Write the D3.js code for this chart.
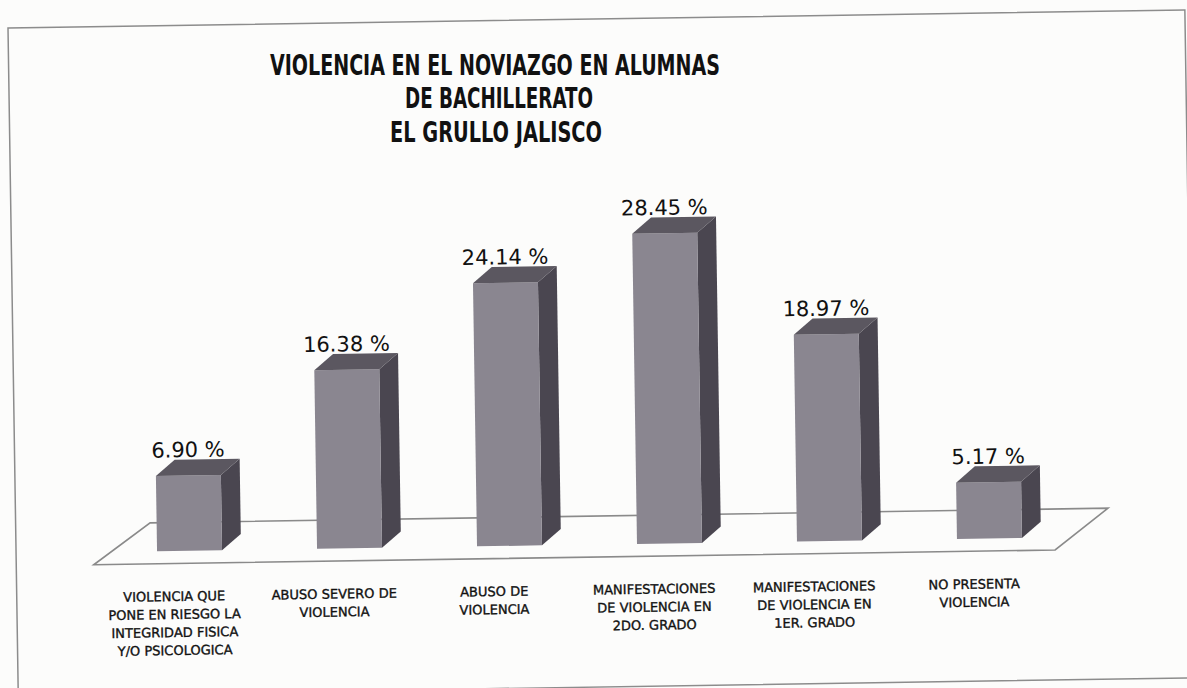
<!DOCTYPE html>
<html lang="es">
<head>
    <meta charset="UTF-8">
    <title>Violencia en el noviazgo</title>
    <style>
        body { margin: 0; background: #fcfcfb; }
        svg { display: block; }
        .title { font-family: "Liberation Sans Narrow", "DejaVu Sans Condensed", "DejaVu Sans", sans-serif; font-weight: bold; font-size: 28px; fill: #111; }
        .value { font-family: "DejaVu Sans", sans-serif; font-size: 21px; fill: #111; }
        .cat { font-family: "DejaVu Sans", sans-serif; font-size: 13px; fill: #111; stroke: #111; stroke-width: 0.35; }
    </style>
</head>
<body>
    <svg id="chart" width="1187" height="688"></svg>
    <script src="https://d3js.org/d3.v7.min.js"></script>
    <script>
        // data
        var titleLines = ["VIOLENCIA EN EL NOVIAZGO  EN ALUMNAS", "DE BACHILLERATO", "EL GRULLO JALISCO"];
        var categories = [
            ["VIOLENCIA QUE", "PONE EN RIESGO LA", "INTEGRIDAD FISICA", "Y/O PSICOLOGICA"],
            ["ABUSO SEVERO DE", "VIOLENCIA"],
            ["ABUSO DE", "VIOLENCIA"],
            ["MANIFESTACIONES", "DE VIOLENCIA EN", "2DO. GRADO"],
            ["MANIFESTACIONES", "DE VIOLENCIA EN", "1ER. GRADO"],
            ["NO PRESENTA", "VIOLENCIA"]
        ];
        var values = [6.90, 16.38, 24.14, 28.45, 18.97, 5.17];
        var valueLabels = ["6.90 %", "16.38 %", "24.14 %", "28.45 %", "18.97 %", "5.17 %"];

        var svg = d3.select("#chart");
        // the scanned page is slightly tilted
        var g = svg.append("g").attr("transform", "rotate(-0.88, 8, 28)");

        g.append("rect")
            .attr("x", 8).attr("y", 28)
            .attr("width", 1177).attr("height", 668)
            .attr("fill", "none")
            .attr("stroke", "#8c8c8c")
            .attr("stroke-width", 1.5);

        // title kept level so the lines don't crowd each other
        var titleWidths = [450, 188, 212];
        var titleX = [495, 499, 496];
        var titleY = [74.5, 107.5, 141.5];
        svg.selectAll(".title")
            .data(titleLines)
            .enter()
            .append("text")
            .attr("class", "title")
            .attr("x", (d, i) => titleX[i])
            .attr("y", (d, i) => titleY[i])
            .attr("text-anchor", "middle")
            .attr("textLength", (d, i) => titleWidths[i])
            .attr("lengthAdjust", "spacingAndGlyphs")
            .text(d => d);

        var x = d3.scaleBand()
            .domain(d3.range(values.length))
            .range([101.5, 1061.5]);
        var y = d3.scaleLinear()
            .domain([0, 30])
            .range([553.5, 226.5]);

        var barW = 65, dx = 19, dy = 16;
        var x0 = x.range()[0], x1 = x.range()[1], base = y(0);

        // floor
        g.append("path")
            .attr("d", d3.line()([
                [x0 - 16, base + 12.5],
                [x1 - 14.5, base + 12.5],
                [x1 + 39, base - 28.5],
                [x0 + 41, base - 28.5]
            ]) + "Z")
            .attr("fill", "none")
            .attr("stroke", "#8a8a8a")
            .attr("stroke-width", 1.6);

        var bars = g.selectAll(".bar")
            .data(values)
            .enter()
            .append("g")
            .attr("class", "bar");

        function left(i) { return x(i) + (x.bandwidth() - barW) / 2; }

        bars.append("path")
            .attr("d", (d, i) => {
                var l = left(i) + barW, t = y(d);
                return d3.line()([[l, t], [l + dx, t - dy], [l + dx, base - dy], [l, base]]) + "Z";
            })
            .attr("fill", "#4a4650");
        bars.append("rect")
            .attr("x", (d, i) => left(i))
            .attr("y", d => y(d))
            .attr("width", barW)
            .attr("height", d => base - y(d))
            .attr("fill", "#8a8690");
        bars.append("path")
            .attr("d", (d, i) => {
                var l = left(i), t = y(d);
                return d3.line()([[l, t], [l + dx, t - dy], [l + barW + dx, t - dy], [l + barW, t]]) + "Z";
            })
            .attr("fill", "#5b5760");

        bars.append("text")
            .attr("class", "value")
            .attr("x", (d, i) => x(i) + x.bandwidth() / 2)
            .attr("y", d => y(d) - dy - 2.5)
            .attr("text-anchor", "middle")
            .text((d, i) => valueLabels[i]);

        var cats = g.selectAll(".cat")
            .data(categories)
            .enter()
            .append("text")
            .attr("class", "cat")
            .attr("text-anchor", "middle");
        cats.selectAll("tspan")
            .data((d, i) => d.map(s => ({ s: s, i: i })))
            .enter()
            .append("tspan")
            .attr("x", d => x(d.i) + x.bandwidth() / 2 - 16)
            .attr("y", (d, j) => 603.5 + j * 18)
            .text(d => d.s);
    </script>
</body>
</html>
